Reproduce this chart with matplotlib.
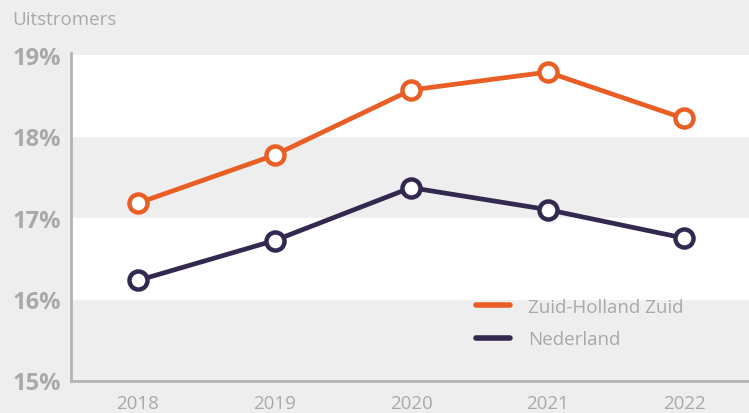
import matplotlib.pyplot as plt

# Data
years = [2018, 2019, 2020, 2021, 2022]
zhz = [17.18, 17.77, 18.57, 18.79, 18.22]
nederland = [16.23, 16.72, 17.37, 17.10, 16.75]
yticks = [15, 16, 17, 18, 19]
ytick_labels = ['15%', '16%', '17%', '18%', '19%']

orange = '#e95e25'
navy = '#33284f'
grey_bg = '#eeeeee'
grey_txt = '#a9a9a9'
font = 'Open Sans'

fig = plt.figure(figsize=(7.49, 4.14), dpi=100, facecolor=grey_bg)
ax = fig.add_axes([71 / 749, 32.5 / 414, 1 - 71 / 749, (381.5 - 56) / 414])
ax.set_facecolor(grey_bg)

# white bands
ax.axhspan(18, 19, color='white', zorder=0)
ax.axhspan(16, 17, color='white', zorder=0)

marker_style = dict(marker='o', markersize=13, markerfacecolor='white', markeredgewidth=3.2)
ax.plot(years, zhz, color=orange, lw=3.4, markeredgecolor=orange, label='Zuid-Holland Zuid', zorder=3, **marker_style)
ax.plot(years, nederland, color=navy, lw=3.4, markeredgecolor=navy, label='Nederland', zorder=3, **marker_style)

ax.set_xlim(2017.509, 2022.476)
ax.set_ylim(15, 19)

for s in ['top', 'right']:
    ax.spines[s].set_visible(False)
for s in ['left', 'bottom']:
    ax.spines[s].set_color('#b3b3b3')
    ax.spines[s].set_linewidth(2)
ax.spines['left'].set_bounds(15, 19.03)

ax.set_yticks(yticks)
ax.set_yticklabels(ytick_labels, fontsize=17, fontweight='bold', color=grey_txt, family=font)
ax.set_xticks(years)
ax.set_xticklabels([str(y) for y in years], fontsize=13.5, color=grey_txt, family=font)
ax.tick_params(axis='both', length=0)
ax.tick_params(axis='y', pad=7)
ax.tick_params(axis='x', pad=10)

fig.text(12 / 749, 1 - 20 / 414, 'Uitstromers', fontsize=13.5, color=grey_txt, family=font, va='center', ha='left')

leg = ax.legend(loc='upper left', bbox_to_anchor=((476 - 71) / 678, (381.5 - 299) / 325.5),
                frameon=False, borderpad=0, borderaxespad=0, handlelength=1.8, handletextpad=1.0,
                labelspacing=0.75, prop={'family': font, 'size': 13.5})
for t in leg.get_texts():
    t.set_color(grey_txt)
for h in leg.get_lines():
    h.set_marker('')
    h.set_linewidth(4)
    h.set_solid_capstyle('round')

fig.savefig('out.png', dpi=100, facecolor=grey_bg)
